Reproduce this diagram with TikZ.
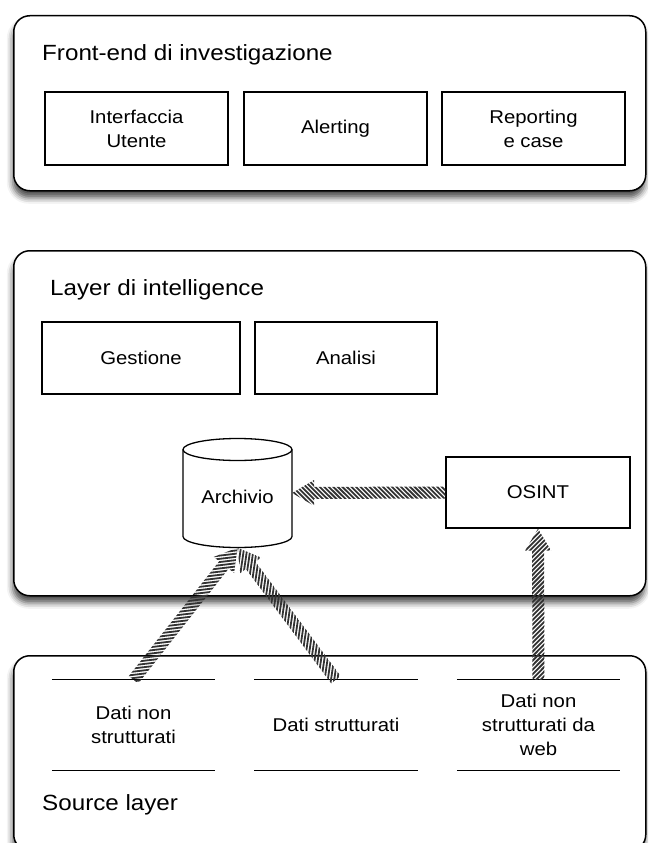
\documentclass[tikz,border=0pt]{standalone}
\usepackage{fontspec}
\setmainfont[FakeStretch=1.1]{Liberation Sans}
\usetikzlibrary{shadows.blur}

% Hatched block arrow between two named coordinates
\newdimen\hatchdx
\newdimen\hatchdy
\newcommand{\hatcharrow}[2]{%
  \pgfextractx{\hatchdx}{\pgfpointdiff{\pgfpointanchor{#1}{center}}{\pgfpointanchor{#2}{center}}}%
  \pgfextracty{\hatchdy}{\pgfpointdiff{\pgfpointanchor{#1}{center}}{\pgfpointanchor{#2}{center}}}%
  \pgfmathsetmacro\hatchang{atan2(\hatchdy,\hatchdx)}%
  \pgfmathsetmacro\hatchlen{veclen(\hatchdx,\hatchdy)}%
  \begin{scope}[shift={(#1)}, rotate=\hatchang]
    \clip (0pt,-6pt) -- ({\hatchlen pt-22pt},-6pt) -- ({\hatchlen pt-22pt},-13pt)
      -- (\hatchlen pt,0pt) -- ({\hatchlen pt-22pt},13pt) -- ({\hatchlen pt-22pt},6pt)
      -- (0pt,6pt) -- cycle;
    \foreach \s in {-16,-11.5,...,\hatchlen}
      \draw[line width=1.8pt, black!80] (\s pt,14pt) -- ++(28pt,-28pt);
  \end{scope}}

\begin{document}
\begin{tikzpicture}[x=1pt,y=-1pt,
  layerbox/.style={draw=black, line width=1.5pt, rounded corners=16pt, fill=white,
    anchor=north west, inner sep=0pt,
    blur shadow={shadow xshift=-1pt, shadow yshift=-7pt, shadow blur radius=6pt, shadow opacity=70}},
  compbox/.style={draw=black, line width=1.3pt, fill=white, inner sep=0pt, align=center,
    font=\fontsize{18.5}{24}\selectfont},
  layertitle/.style={anchor=west, inner sep=0pt, font=\fontsize{22}{26}\selectfont},
  source/.style={inner sep=0pt, align=center, font=\fontsize{18.5}{24}\selectfont,
    minimum width=163pt, minimum height=90pt},
]
\path[use as bounding box] (0,0) rectangle (648,843);
\clip (0,0) rectangle (648,843);

% layers
\node[layerbox, minimum width=632pt, minimum height=175pt] (fe) at (13,15) {};
\node[layerbox, minimum width=632pt, minimum height=345pt] (il) at (13,250) {};
\node[layerbox, minimum width=632pt, minimum height=195pt] (sl) at (13,655) {};

\node[layertitle] (fet) at (42,55) {Front-end di investigazione};
\node[layertitle] (ilt) at (50,290) {Layer di intelligence};
\node[layertitle] (slt) at (42,805) {Source layer};

% front-end components
\node[compbox, minimum width=183pt, minimum height=73pt] (ui) at (136.5,128.5) {Interfaccia\\Utente};
\node[compbox, minimum width=183pt, minimum height=73pt] (al) at (335.5,128.5) {Alerting};
\node[compbox, minimum width=183pt, minimum height=73pt] (rc) at (533.5,128.5) {Reporting\\e case};

% intelligence components
\node[compbox, minimum width=198pt, minimum height=72pt] (ge) at (141,358) {Gestione};
\node[compbox, minimum width=182pt, minimum height=72pt] (an) at (346,358) {Analisi};
\node[compbox, minimum width=184pt, minimum height=71pt] (os) at (538,492.5) {OSINT};

% archive cylinder (outline area ar, label arl)
\node[inner sep=0pt, minimum width=109pt, minimum height=109pt] (ar) at (237.5,493) {};
\fill[white] (183,449.5) -- (183,536.5) arc[start angle=180, end angle=360, x radius=54.5pt, y radius=11pt]
  -- (292,449.5) arc[start angle=0, end angle=180, x radius=54.5pt, y radius=11pt] -- cycle;
\draw[line width=1.3pt] (183,449.5) -- (183,536.5)
  arc[start angle=180, end angle=360, x radius=54.5pt, y radius=11pt] -- (292,449.5);
\draw[line width=1.3pt] (237.5,449.5) ellipse[x radius=54.5pt, y radius=11pt];
\node[inner sep=0pt, font=\fontsize{18.5}{24}\selectfont] (arl) at (237.5,497) {Archivio};

% data sources
\node[source] (s1) at (133.5,725) {Dati non\\strutturati};
\node[source] (s2) at (336,725) {Dati strutturati};
\node[source] (s3) at (538.5,725) {Dati non\\strutturati da\\web};
\foreach \n in {s1,s2,s3} {
  \draw[line width=1.3pt] (\n.north west) -- (\n.north east);
  \draw[line width=1.3pt] (\n.south west) -- (\n.south east);
}

% flows
\coordinate (osw) at (os.west);
\coordinate (are) at (ar.east);
\coordinate (ars) at (ar.south);
\coordinate (oss) at (os.south);
\coordinate (s1n) at (s1.north);
\coordinate (s2n) at (s2.north);
\coordinate (s3n) at (s3.north);
\hatcharrow{osw}{are}
\hatcharrow{s3n}{oss}
\hatcharrow{s1n}{ars}
\hatcharrow{s2n}{ars}
\end{tikzpicture}
\end{document}
